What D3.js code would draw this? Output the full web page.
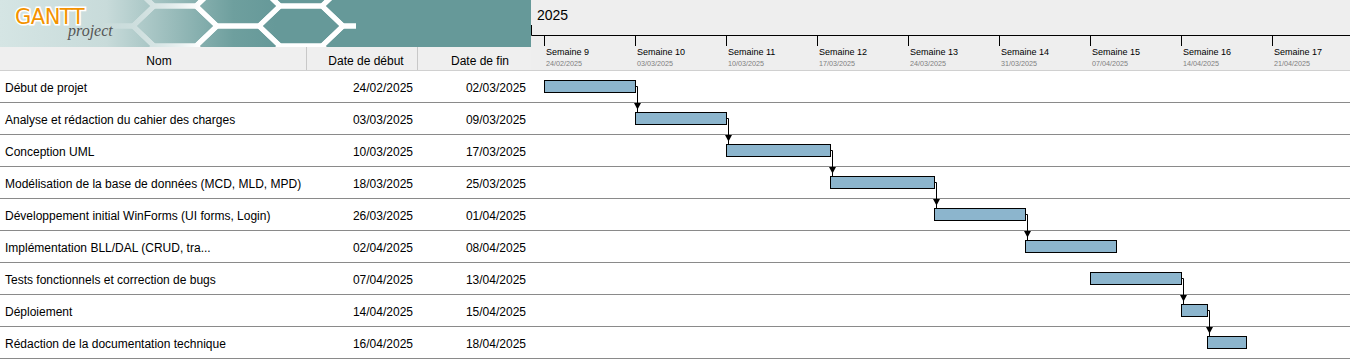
<!DOCTYPE html>
<html><head><meta charset="utf-8">
<script src="https://cdn.jsdelivr.net/npm/d3@7"></script>
<style>
body{margin:0;background:#fff;overflow:hidden}
text{font-family:"Liberation Sans",Arial,sans-serif}
</style>
</head><body>
<svg id="c" width="1350" height="359"></svg>
<script>
const taskNames = [
  "Début de projet",
  "Analyse et rédaction du cahier des charges",
  "Conception UML",
  "Modélisation de la base de données (MCD, MLD, MPD)",
  "Développement initial WinForms (UI forms, Login)",
  "Implémentation BLL/DAL (CRUD, tra...",
  "Tests fonctionnels et correction de bugs",
  "Déploiement",
  "Rédaction de la documentation technique"
];
const startDates = ["2025-02-24","2025-03-03","2025-03-10","2025-03-18","2025-03-26","2025-04-02","2025-04-07","2025-04-14","2025-04-16"];
const endDates   = ["2025-03-02","2025-03-09","2025-03-17","2025-03-25","2025-04-01","2025-04-08","2025-04-13","2025-04-15","2025-04-18"];
const dependencies = [[0,1],[1,2],[2,3],[3,4],[4,5],[6,7],[7,8]];
const weekLabels = ["Semaine 9","Semaine 10","Semaine 11","Semaine 12","Semaine 13","Semaine 14","Semaine 15","Semaine 16","Semaine 17"];
const yearLabel = "2025";
const headerLabels = ["Nom","Date de début","Date de fin"];
const viewRange = ["2025-02-24","2025-04-28"];

const parse = d3.utcParse("%Y-%m-%d");
const fmt = d3.utcFormat("%d/%m/%Y");
const svg = d3.select("#c");
const W = 1350;

const x = d3.scaleUtc().domain(viewRange.map(parse)).range([544, 1363]);
const y = d3.scaleBand().domain(d3.range(taskNames.length)).range([70, 70 + 32 * taskNames.length]);

const defs = svg.append("defs");
const lg = defs.append("linearGradient").attr("id","lg").attr("gradientUnits","userSpaceOnUse")
  .attr("x1",0).attr("x2",531).attr("y1",0).attr("y2",0);
[[0,"#d5e5e4"],[0.2,"#c8dbda"],[0.44,"#6e9f9e"],[0.52,"#669999"],[1,"#669999"]]
  .forEach(([o,c]) => lg.append("stop").attr("offset",o).attr("stop-color",c));
const mg = defs.append("linearGradient").attr("id","mg").attr("gradientUnits","userSpaceOnUse")
  .attr("x1",100).attr("x2",200).attr("y1",0).attr("y2",0);
mg.append("stop").attr("offset",0).attr("stop-color","#000");
mg.append("stop").attr("offset",1).attr("stop-color","#fff");
defs.append("mask").attr("id","mk").append("rect").attr("x",0).attr("y",0).attr("width",531).attr("height",47).attr("fill","url(#mg)");
defs.append("clipPath").attr("id","hc").append("rect").attr("x",0).attr("y",0).attr("width",356).attr("height",47);

// timeline header background
svg.append("rect").attr("x",531).attr("y",0).attr("width",W-531).attr("height",71).attr("fill","#eeeeee");
// table header background
svg.append("rect").attr("x",0).attr("y",47).attr("width",531).attr("height",24).attr("fill","#efefef");

// logo
const logo = svg.append("g");
logo.append("rect").attr("x",0).attr("y",0).attr("width",531).attr("height",47).attr("fill","url(#lg)");
const hex = logo.append("g").attr("clip-path","url(#hc)").attr("mask","url(#mk)");
const rx = 42, ry = 20;
for (let k = 0; k < 6; k++) {
  for (let m = -1; m < 3; m++) {
    const cx = 112 + 1.5 * rx * k, cy = 6 + (k % 2 ? ry : 0) + 2 * ry * m;
    const pts = [[cx-rx,cy],[cx-rx/2,cy-ry],[cx+rx/2,cy-ry],[cx+rx,cy],[cx+rx/2,cy+ry],[cx-rx/2,cy+ry]];
    hex.append("polygon").attr("points", pts.map(p=>p.join(",")).join(" "))
      .attr("fill","none").attr("stroke","#fff").attr("stroke-width",5).attr("stroke-linejoin","miter");
  }
}
logo.append("text").attr("x",15).attr("y",24).text("GANTT")
  .attr("font-size",21).attr("fill","#f39200").attr("stroke","#fff").attr("stroke-width",3)
  .attr("paint-order","stroke").attr("style","font-family:'DejaVu Sans',sans-serif;letter-spacing:-0.5px");
logo.append("text").attr("x",68).attr("y",36).text("project")
  .attr("font-size",16).attr("fill","#555")
  .attr("style","font-family:'Liberation Serif',serif;font-style:italic");

// year row
svg.append("text").attr("x",537).attr("y",20).attr("font-size",14).attr("fill","#000").text(yearLabel);
svg.append("path").attr("d",`M531.5,25V35.5H${W}`).attr("fill","none").attr("stroke","#000");

// week ticks and labels
const weeks = d3.utcMonday.range(...x.domain());
const wk = svg.append("g").selectAll("g").data(weeks).join("g")
  .attr("transform", d => `translate(${Math.round(x(d))},0)`);
wk.append("line").attr("x1",0.5).attr("x2",0.5).attr("y1",35).attr("y2",46).attr("stroke","#000");
wk.append("text").attr("x",2).attr("y",55).attr("font-size",9).attr("fill","#000").text((d,i)=>weekLabels[i]);
wk.append("text").attr("x",2).attr("y",66).attr("font-size",7.2).attr("fill","#808080").text(d=>fmt(d));

// table header
svg.append("line").attr("x1",0).attr("x2",W).attr("y1",70.5).attr("y2",70.5).attr("stroke","#d0d0d0");
[306.5,417.5].forEach(px => svg.append("line").attr("x1",px).attr("x2",px).attr("y1",47).attr("y2",70).attr("stroke","#c8c8c8"));
const hx = [159, 366, 480];
headerLabels.forEach((t,i)=> svg.append("text").attr("x",hx[i]).attr("y",64.5).attr("text-anchor","middle")
  .attr("font-size",12).attr("fill","#000").text(t));

// rows
const rows = svg.append("g").selectAll("g").data(taskNames).join("g");
rows.append("line").attr("x1",0).attr("x2",W).attr("y1",(d,i)=>y(i)+32.5).attr("y2",(d,i)=>y(i)+32.5).attr("stroke","#8a8a8a");
rows.append("text").attr("x",5).attr("y",(d,i)=>y(i)+21.5).attr("font-size",12).text(d=>d);
rows.append("text").attr("x",413).attr("y",(d,i)=>y(i)+21.5).attr("font-size",12).attr("text-anchor","end").text((d,i)=>fmt(parse(startDates[i])));
rows.append("text").attr("x",526).attr("y",(d,i)=>y(i)+21.5).attr("font-size",12).attr("text-anchor","end").text((d,i)=>fmt(parse(endDates[i])));

// bars
const xs = i => Math.round(x(parse(startDates[i])));
const xe = i => Math.round(x(d3.utcDay.offset(parse(endDates[i]),1)));
svg.append("g").selectAll("rect").data(taskNames).join("rect")
  .attr("x",(d,i)=>xs(i)+0.5).attr("y",(d,i)=>y(i)+10.5)
  .attr("width",(d,i)=>xe(i)-xs(i)).attr("height",12)
  .attr("fill","#8cb5cd").attr("stroke","#000");

// dependency arrows
const ar = svg.append("g");
dependencies.forEach(([a,b])=>{
  const ex = xe(a), my = y(a)+16.5, ax = ex+2.5, ty = y(b)+10;
  ar.append("path").attr("d",`M${ex},${my}H${ax}V${ty}`).attr("fill","none").attr("stroke","#000");
  ar.append("path").attr("d",`M${ax-3.5},${ty-9}H${ax+3.5}L${ax},${ty-2.5}Z`).attr("fill","#000");
});
</script>
</body></html>
